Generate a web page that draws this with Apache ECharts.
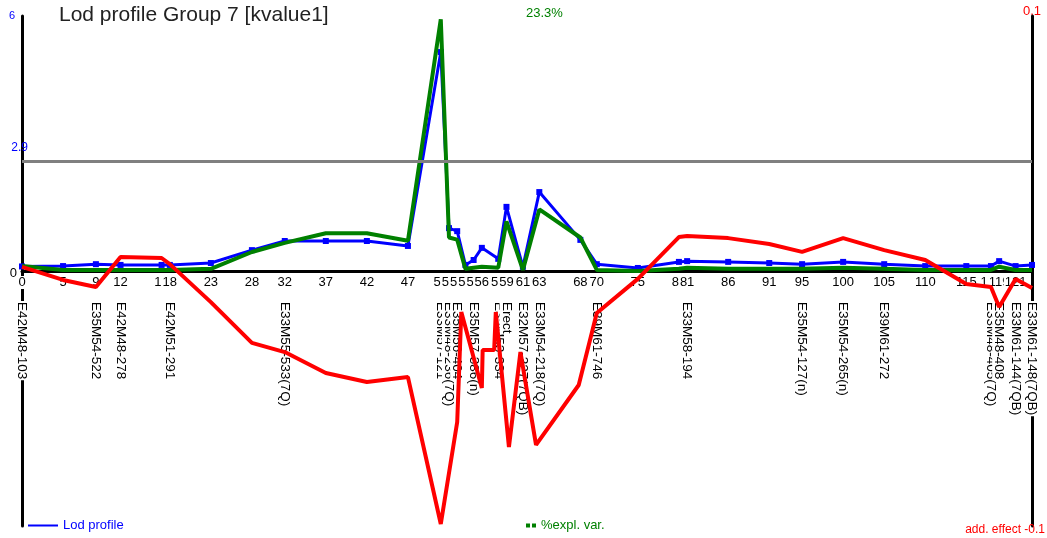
<!DOCTYPE html>
<html>
<head>
<meta charset="utf-8">
<script src="https://cdn.jsdelivr.net/npm/echarts@6/dist/echarts.min.js"></script>
<style>
  html, body { margin: 0; padding: 0; background: #fff; }
  #chart { width: 1047px; height: 538px; }
</style>
</head>
<body>
<div id="chart"></div>
<script>
// Map positions (cM) of the scan points, also used as x tick labels
const scanPos = [0, 5, 9, 12, 17, 18, 23, 28, 32, 37, 42, 47, 51, 52, 53, 54, 55, 56, 58, 59,
  61, 63, 68, 70, 75, 80, 81, 86, 91, 95, 100, 105, 110, 115, 118, 119, 121, 123];

// LOD score at each scan point
const lodProfile = [0.12, 0.13, 0.18, 0.16, 0.16, 0.16, 0.21, 0.55, 0.79, 0.79,
  0.79, 0.66, 5.77, 1.13, 1.05, 0.16, 0.29, 0.61, 0.32, 1.69,
  0.11, 2.08, 0.82, 0.18, 0.08, 0.24, 0.26, 0.24, 0.21, 0.18,
  0.24, 0.18, 0.13, 0.13, 0.13, 0.26, 0.13, 0.16];

// Percentage of explained variance at each scan point
const explVar = [0.46, 0.1, 0.1, 0.1, 0.1, 0.1, 0.2, 1.76, 2.6, 3.5,
  3.5, 2.8, 23.3, 3.1, 2.9, 0.2, 0.3, 0.4, 0.3, 4.6,
  0.1, 5.7, 3.1, 0.1, 0, 0.2, 0.3, 0.2, 0.2, 0.2,
  0.3, 0.2, 0.1, 0.1, 0.1, 0.4, 0.1, 0.1];

// Additive effect, sampled on its own set of positions
const effectPos = [0, 5, 9, 12, 17, 18, 23, 28, 32, 37, 42, 47, 51, 53, 53.5, 56, 56.1, 57.5, 57.7, 59.3,
  60.7, 62.6, 67.8, 70, 75, 80, 81, 86, 91, 95, 100, 105, 110, 115, 118, 119, 121, 123];
const addEffect = [0.0016, -0.0035, -0.0063, 0.0055, 0.0051, 0.0027, -0.0122, -0.0282, -0.0318, -0.0400,
  -0.0435, -0.0416, -0.0992, -0.0592, -0.0161, -0.0459, -0.0310, -0.0310, -0.0161, -0.0690,
  -0.0318, -0.0682, -0.0447, -0.0165, -0.0031, 0.0133, 0.0137, 0.0129, 0.0106, 0.0075,
  0.0129, 0.0082, 0.0043, -0.0051, -0.0063, -0.0141, -0.0031, -0.0067];

// Markers on the linkage group
const markerPos = [0, 9, 12, 18, 32, 51, 52, 53, 55, 58, 59, 61, 63, 70, 81, 95, 100, 105, 118, 119, 121, 123];
const markerNames = ['E42M48-103', 'E35M54-522', 'E42M48-278', 'E42M51-291', 'E33M55-533(7Q)',
  'E33M57-121', 'E33M48-236(7Q)', 'E35M56-404', 'E35M57-386(n)', 'E35M53-334', 'Erect',
  'E32M57-327(7QB)', 'E33M54-218(7Q)', 'E39M61-746', 'E33M58-194', 'E35M54-127(n)',
  'E35M54-265(n)', 'E39M61-272', 'E33M48-405(7Q)', 'E35M48-408', 'E33M61-144(7QB)', 'E33M61-148(7QB)'];

// LOD axis labels and significance threshold
const lodTickValues = [0, 2.9];
const lodTickLabels = ['0', '2.9'];
const lodThreshold = 2.9;
const lodTopLabel = '6';
const effectTopLabel = '0.1';
const effectBottomLabel = 'add. effect -0.1';
const maxExplLabel = '23.3%';
const chartTitle = 'Lod profile Group 7 [kvalue1]';

const FONT = '"Liberation Sans", Arial, sans-serif';
const BLUE = '#0000ff', GREEN = '#008000', RED = '#ff0000';

// Plot area; the x axes sit on the horizontal middle (value 0 of every y axis)
const GRID = { left: 22, right: 15, top: 16, bottom: 12 };
const CHART_H = 538;
const halfHeight = (CHART_H - GRID.top - GRID.bottom) / 2;

const zip = (xs, ys) => xs.map((x, i) => [x, ys[i]]);
const nameAt = {};
markerPos.forEach((p, i) => { nameAt[p] = markerNames[i]; });

const chart = echarts.init(document.getElementById('chart'), null, { renderer: 'canvas' });
chart.setOption({
  animation: false,
  backgroundColor: '#fff',
  textStyle: { fontFamily: FONT },
  title: [
    { text: chartTitle, left: 59, top: 5, padding: 0,
      textStyle: { fontFamily: FONT, fontSize: 21, fontWeight: 'normal', color: '#222' } },
    { text: maxExplLabel, left: 526, top: 7, padding: 0,
      textStyle: { fontFamily: FONT, fontSize: 13, fontWeight: 'normal', color: GREEN } },
    { text: effectBottomLabel, right: 2, top: 524, padding: 0,
      textStyle: { fontFamily: FONT, fontSize: 12, fontWeight: 'normal', color: RED } }
  ],
  legend: [
    { data: [{ name: 'Lod profile', icon: 'rect' }], left: 28, top: 519, padding: 0,
      itemWidth: 30, itemHeight: 2, selectedMode: false,
      textStyle: { fontFamily: FONT, fontSize: 13, color: BLUE } },
    { data: [{ name: '%expl. var.', icon: 'path://M0,0H4V4H0Z M6,0H10V4H6Z' }], left: 526, top: 519, padding: 0,
      itemWidth: 10, itemHeight: 4, selectedMode: false,
      textStyle: { fontFamily: FONT, fontSize: 13, color: GREEN } }
  ],
  grid: Object.assign({ containLabel: false, outerBoundsMode: 'none' }, GRID),
  xAxis: [
    { // position axis with tick labels, drawn on the zero line
      type: 'value', min: 0, max: 123, position: 'bottom', offset: -halfHeight, z: 1,
      axisLine: { show: true, onZero: false, lineStyle: { color: '#000', width: 3 } },
      axisTick: { show: false }, splitLine: { show: false },
      axisLabel: { customValues: scanPos, formatter: v => String(v), margin: 5, hideOverlap: false,
        fontFamily: FONT, fontSize: 13, color: '#000', backgroundColor: '#fff', padding: [0, 1] }
    },
    { // marker names hanging below the zero line
      type: 'value', min: 0, max: 123, position: 'bottom', offset: -halfHeight, z: 1,
      axisLine: { show: false, onZero: false },
      axisTick: { show: false }, splitLine: { show: false },
      axisLabel: { customValues: markerPos, formatter: v => nameAt[v] || '', rotate: -90, margin: 30, hideOverlap: false,
        fontFamily: FONT, fontSize: 13.5, color: '#000', backgroundColor: '#fff', padding: [0, 1] }
    }
  ],
  yAxis: [
    { // LOD
      type: 'value', min: -6.72, max: 6.72, position: 'left', z: 0,
      name: lodTopLabel, nameLocation: 'end', nameGap: 0,
      nameTextStyle: { color: BLUE, fontSize: 11, fontFamily: FONT, align: 'right', verticalAlign: 'middle', padding: [0, 7, 0, 0] },
      axisLine: { show: true, onZero: false, lineStyle: { color: '#000', width: 3 } },
      axisTick: { show: false }, splitLine: { show: false },
      axisLabel: {
        customValues: lodTickValues, margin: -6,
        formatter: v => v === 0 ? '{z|' + lodTickLabels[0] + '}' : '{t|' + lodTickLabels[1] + '}',
        rich: {
          z: { color: '#000', fontSize: 13, fontFamily: FONT, padding: [4, 11, 0, 0] },
          t: { color: BLUE, fontSize: 12, fontFamily: FONT, padding: [0, 0, 26, 0] }
        }
      }
    },
    { // % explained variance
      type: 'value', min: -23.6, max: 23.6, show: false,
      axisLine: { onZero: false }
    },
    { // additive effect
      type: 'value', min: -0.1, max: 0.1, position: 'right', z: 0,
      name: effectTopLabel, nameLocation: 'end', nameGap: 5,
      nameTextStyle: { color: RED, fontSize: 13, fontFamily: FONT, align: 'center', verticalAlign: 'middle' },
      axisLine: { show: true, onZero: false, lineStyle: { color: '#000', width: 3 } },
      axisTick: { show: false }, splitLine: { show: false }, axisLabel: { show: false }
    }
  ],
  series: [
    {
      name: 'Lod profile', type: 'line', xAxisIndex: 0, yAxisIndex: 0, z: 2,
      data: zip(scanPos, lodProfile),
      color: BLUE, lineStyle: { color: BLUE, width: 3 },
      symbol: 'rect', symbolSize: 6, showSymbol: true, itemStyle: { color: BLUE },
      markLine: {
        silent: true, symbol: ['none', 'none'], label: { show: false },
        lineStyle: { color: '#808080', width: 3, type: 'solid' },
        data: [{ yAxis: lodThreshold }]
      }
    },
    {
      name: '%expl. var.', type: 'line', xAxisIndex: 0, yAxisIndex: 1, z: 3,
      data: zip(scanPos, explVar),
      color: GREEN, lineStyle: { color: GREEN, width: 4 }, symbol: 'none'
    },
    {
      name: 'add. effect', type: 'line', xAxisIndex: 0, yAxisIndex: 2, z: 4,
      data: zip(effectPos, addEffect),
      color: RED, lineStyle: { color: RED, width: 4 }, symbol: 'none'
    }
  ]
});
</script>
</body>
</html>
